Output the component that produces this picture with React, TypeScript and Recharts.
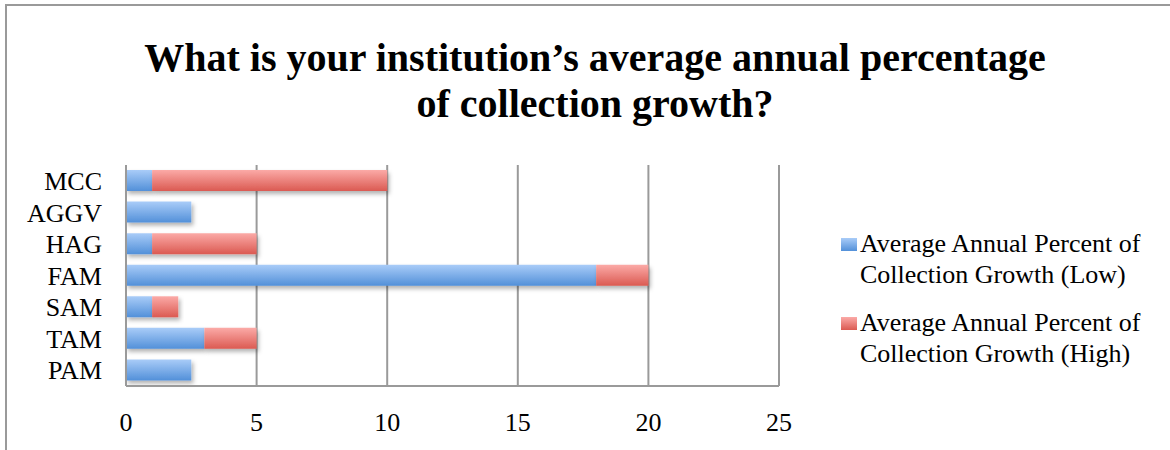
import { BarChart, Bar, XAxis, YAxis, CartesianGrid } from "recharts";

const categories = ["MCC", "AGGV", "HAG", "FAM", "SAM", "TAM", "PAM"];
const lowValues = [1, 2.5, 1, 18, 1, 3, 2.5];
const highValues = [9, 0, 4, 2, 1, 2, 0];
const xTicks = [0, 5, 10, 15, 20, 25];

const lowName = "Average Annual Percent of Collection Growth (Low)";
const highName = "Average Annual Percent of Collection Growth (High)";

const data = categories.map((name, i) => ({
  name,
  low: lowValues[i],
  high: highValues[i],
}));

const font = '"Liberation Serif", "Times New Roman", serif';
const gray = "#9a9a9a";

function LegendItem({ top, grad, lines }: { top: number; grad: string; lines: string[] }) {
  return (
    <div style={{ position: "absolute", left: 841, top, fontFamily: font, fontSize: 26, lineHeight: "31px", color: "#000" }}>
      <div style={{ position: "absolute", left: 0, top: 10, width: 16, height: 13, background: grad }} />
      <div style={{ marginLeft: 19, whiteSpace: "nowrap" }}>
        {lines.map((l) => (
          <div key={l}>{l}</div>
        ))}
      </div>
    </div>
  );
}

export default function App() {
  return (
    <div style={{ position: "absolute", left: 0, top: 0, width: 1170, height: 450, overflow: "hidden", background: "#fff" }}>
      <div style={{ position: "absolute", left: 5, top: 4, width: 1300, height: 600, border: `2px solid ${gray}` }} />
      <div
        style={{
          position: "absolute",
          left: 0,
          top: 35,
          width: 1190,
          textAlign: "center",
          fontFamily: font,
          fontWeight: "bold",
          fontSize: 40,
          lineHeight: "46px",
        }}
      >
        <div>What is your institution’s average annual percentage</div>
        <div>of collection growth?</div>
      </div>
      <div style={{ position: "absolute", left: 0, top: 0 }}>
        <BarChart
          width={1170}
          height={450}
          data={data}
          layout="vertical"
          margin={{ top: 165, right: 391, bottom: 24, left: 0 }}
          barSize={21}
        >
          <defs>
            <linearGradient id="blueGrad" x1="0" y1="0" x2="0" y2="1">
              <stop offset="0%" stopColor="#a9ccf8" />
              <stop offset="100%" stopColor="#5290d9" />
            </linearGradient>
            <linearGradient id="redGrad" x1="0" y1="0" x2="0" y2="1">
              <stop offset="0%" stopColor="#fbaaa7" />
              <stop offset="100%" stopColor="#db5a52" />
            </linearGradient>
            <filter id="shadow" x="-10%" y="-30%" width="130%" height="180%">
              <feDropShadow dx="2" dy="3" stdDeviation="2" floodColor="#000" floodOpacity="0.3" />
            </filter>
          </defs>
          <CartesianGrid horizontal={false} stroke={gray} strokeWidth={2} />
          <XAxis
            type="number"
            domain={[0, 25]}
            ticks={xTicks}
            height={40}
            tickLine={false}
            tickMargin={21}
            axisLine={{ stroke: gray, strokeWidth: 2 }}
            tick={{ fill: "#000", fontFamily: font, fontSize: 26 }}
            interval={0}
          />
          <YAxis
            type="category"
            dataKey="name"
            width={126}
            tickLine={false}
            tickMargin={18}
            axisLine={{ stroke: gray, strokeWidth: 2 }}
            tick={{ fill: "#000", fontFamily: font, fontSize: 26 }}
            interval={0}
          />
          <Bar dataKey="low" name={lowName} stackId="a" fill="url(#blueGrad)" filter="url(#shadow)" isAnimationActive={false} />
          <Bar dataKey="high" name={highName} stackId="a" fill="url(#redGrad)" filter="url(#shadow)" isAnimationActive={false} />
        </BarChart>
      </div>
      <LegendItem top={228} grad="linear-gradient(#a9ccf8, #5290d9)" lines={["Average Annual Percent of", "Collection Growth (Low)"]} />
      <LegendItem top={307} grad="linear-gradient(#fbaaa7, #db5a52)" lines={["Average Annual Percent of", "Collection Growth (High)"]} />
    </div>
  );
}
